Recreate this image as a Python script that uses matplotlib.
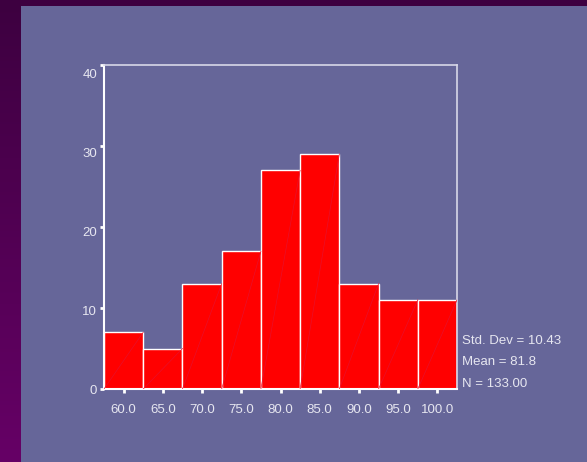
import numpy as np
import matplotlib
matplotlib.use("Agg")
import matplotlib.pyplot as plt
from matplotlib.patches import Rectangle
import matplotlib.transforms as mtransforms

# Data
bin_centers = [60.0, 65.0, 70.0, 75.0, 80.0, 85.0, 90.0, 95.0, 100.0]
counts = [7, 5, 13, 17, 27, 29, 13, 11, 11]
x_tick_labels = ["60.0", "65.0", "70.0", "75.0", "80.0", "85.0", "90.0", "95.0", "100.0"]
y_ticks = [0, 10, 20, 30, 40]
stats_lines = ["Std. Dev = 10.43", "Mean = 81.8", "N = 133.00"]
bin_width = 5.0

W, H = 587, 462
fig = plt.figure(figsize=(W / 100, H / 100), dpi=100)
plt.rcParams['font.family'] = ['Liberation Sans', 'DejaVu Sans']

# Background gradient
bg = fig.add_axes([0, 0, 1, 1])
bg.set_axis_off()
top = np.array([0x3d, 0x00, 0x40]) / 255
bot = np.array([0x66, 0x00, 0x66]) / 255
t = np.linspace(0, 1, 256)[:, None]
grad = top[None, :] * (1 - t) + bot[None, :] * t
bg.imshow(grad[:, None, :], aspect='auto', extent=[0, 1, 0, 1], origin='upper')
bg.add_patch(Rectangle((21 / W, 0), 1 - 21 / W, (H - 6) / H, transform=bg.transAxes,
                       facecolor='#666699', edgecolor='none'))
bg.set_xlim(0, 1)
bg.set_ylim(0, 1)

# Histogram axes
left, right, topy, boty = 104, 457, 65, 389
ax = fig.add_axes([left / W, (H - boty) / H, (right - left) / W, (boty - topy) / H])
ax.set_facecolor('none')
ax.bar(bin_centers, counts, width=bin_width, color='#ff0000', edgecolor='white', linewidth=1.0, zorder=2)
for c, h in zip(bin_centers, counts):
    ax.plot([c - bin_width / 2, c + bin_width / 2], [0, h], color='#e8102a', lw=0.5, zorder=3)

ax.set_xlim(bin_centers[0] - bin_width / 2, bin_centers[-1] + bin_width / 2)
ax.set_ylim(0, 40)
ax.set_xticks(bin_centers)
ax.set_xticklabels(x_tick_labels)
ax.set_yticks(y_ticks)
ax.set_yticklabels([str(v) for v in y_ticks])
ax.tick_params(axis='both', colors='white', labelcolor='#e6e6f0', labelsize=9.5,
               length=3, width=2, direction='out')
ax.tick_params(axis='x', pad=8)
ax.tick_params(axis='y', pad=2)
# labels sit slightly below their tick marks in the reference
for v, lab in zip(y_ticks, ax.get_yticklabels()):
    dy = -(v / 40) * 6 / 72
    lab.set_transform(lab.get_transform() + mtransforms.ScaledTranslation(0, dy, fig.dpi_scale_trans))
for s in ['left', 'bottom']:
    ax.spines[s].set_color('white')
    ax.spines[s].set_linewidth(1.5)
for s in ['top', 'right']:
    ax.spines[s].set_color('#d8d8e8')
    ax.spines[s].set_linewidth(1.2)

ys = [341, 362, 384]
for txt, y in zip(stats_lines, ys):
    fig.text(462 / W, 1 - y / H, txt, color='#e6e6f0', fontsize=9.5, va='center', ha='left')

fig.savefig("out.png", dpi=100)
